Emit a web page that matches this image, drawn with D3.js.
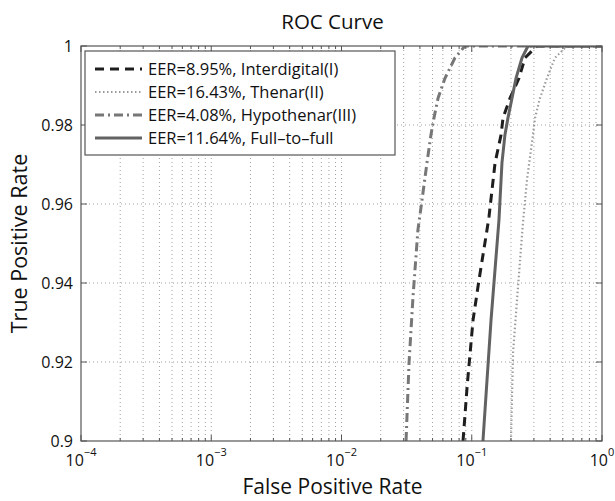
<!DOCTYPE html>
<html>
<head>
<meta charset="utf-8">
<script src="https://d3js.org/d3.v7.min.js"></script>
<style>
  body { margin: 0; background: #fff; }
  text { font-family: "Open Sans", "Noto Sans", sans-serif; fill: #111; }
</style>
</head>
<body>
<div id="chart"></div>
<script>
// values
var xTicks = [1e-4, 1e-3, 1e-2, 1e-1, 1];
var xTickExp = ["\u22124", "\u22123", "\u22122", "\u22121", "0"];
var yTicks = [0.9, 0.92, 0.94, 0.96, 0.98, 1];

var seriesNames = ["EER=8.95%, Interdigital(I)", "EER=16.43%, Thenar(II)",
                   "EER=4.08%, Hypothenar(III)", "EER=11.64%, Full\u2013to\u2013full"];

var interdigitalFpr = [0.0857, 0.0921, 0.1023, 0.1137, 0.1309, 0.1356, 0.1510, 0.1679, 0.1738, 0.1968, 0.2307, 0.2565, 0.317, 1];
var interdigitalTpr = [0.9, 0.9137, 0.9306, 0.9408, 0.9534, 0.9567, 0.9704, 0.9775, 0.9818, 0.9868, 0.9919, 0.9970, 1, 1];

var thenarFpr = [0.2000, 0.2075, 0.2265, 0.2472, 0.2655, 0.2951, 0.3062, 0.3342, 0.3784, 0.4355, 0.538, 1];
var thenarTpr = [0.9, 0.9223, 0.9390, 0.9552, 0.9661, 0.9775, 0.9818, 0.9868, 0.9919, 0.9970, 1, 1];

var hypothenarFpr = [0.0313, 0.0330, 0.0354, 0.0386, 0.0415, 0.0453, 0.0486, 0.0513, 0.0551, 0.0624, 0.0743, 0.0887, 1];
var hypothenarTpr = [0.9, 0.9198, 0.9365, 0.9534, 0.9610, 0.9704, 0.9775, 0.9818, 0.9868, 0.9919, 0.9970, 1, 1];

var fullFpr = [0.1219, 0.1406, 0.1618, 0.1706, 0.1798, 0.1897, 0.2037, 0.2188, 0.2432, 0.2704, 1];
var fullTpr = [0.9, 0.9306, 0.9560, 0.9704, 0.9775, 0.9818, 0.9868, 0.9919, 0.9970, 1, 1];

var W = 615, H = 501;
var pLeft = 81, pRight = 602, pTop = 46, pBottom = 441;

var svg = d3.select("#chart").append("svg")
    .attr("width", W)
    .attr("height", H);

var x = d3.scaleLog().domain([1e-4, 1]).range([pLeft, pRight]);
var y = d3.scaleLinear().domain([0.9, 1]).range([pBottom, pTop]);

// minor x positions 2..9 per decade
var xMinor = [];
xTicks.slice(0, -1).forEach(function (d) {
    for (var k = 2; k <= 9; k++) xMinor.push(d * k);
});

var grid = svg.append("g").attr("class", "grid");
grid.selectAll("line.gx")
    .data(xTicks.slice(1, -1).concat(xMinor))
    .enter().append("line")
    .attr("x1", function (d) { return x(d); })
    .attr("x2", function (d) { return x(d); })
    .attr("y1", pTop).attr("y2", pBottom)
    .style("stroke", "#a0a0a0")
    .style("stroke-width", 1)
    .style("stroke-dasharray", "1,3");
grid.selectAll("line.gy")
    .data(yTicks.slice(1, -1))
    .enter().append("line")
    .attr("x1", pLeft).attr("x2", pRight)
    .attr("y1", function (d) { return y(d); })
    .attr("y2", function (d) { return y(d); })
    .style("stroke", "#a0a0a0")
    .style("stroke-width", 1)
    .style("stroke-dasharray", "1,3");

// curves
var series = [
    { fpr: interdigitalFpr, tpr: interdigitalTpr, color: "#1e1e1e", width: 3, dash: "9,6" },
    { fpr: thenarFpr, tpr: thenarTpr, color: "#9b9b9b", width: 2.2, dash: "1.5,2.5" },
    { fpr: hypothenarFpr, tpr: hypothenarTpr, color: "#777", width: 3, dash: "9,4,2,4" },
    { fpr: fullFpr, tpr: fullTpr, color: "#626262", width: 3, dash: null }
];

svg.append("clipPath").attr("id", "clip")
    .append("rect")
    .attr("x", pLeft).attr("y", pTop)
    .attr("width", pRight - pLeft).attr("height", pBottom - pTop);

var line = d3.line()
    .x(function (d) { return x(d[0]); })
    .y(function (d) { return y(d[1]); });

svg.append("g").attr("clip-path", "url(#clip)")
    .selectAll("path")
    .data(series)
    .enter().append("path")
    .attr("d", function (s) { return line(d3.zip(s.fpr, s.tpr)); })
    .style("fill", "none")
    .style("stroke", function (s) { return s.color; })
    .style("stroke-width", function (s) { return s.width; })
    .style("stroke-dasharray", function (s) { return s.dash; });

// axes box and inward ticks (matlab style)
var axisColor = "#555";
var ax = svg.append("g").attr("class", "axes");
ax.append("rect")
    .attr("x", pLeft).attr("y", pTop)
    .attr("width", pRight - pLeft).attr("height", pBottom - pTop)
    .style("fill", "none")
    .style("stroke", axisColor)
    .style("stroke-width", 1.2);

[pBottom, pTop].forEach(function (yy) {
    var dir = yy === pBottom ? -1 : 1;
    ax.selectAll(null).data(xTicks).enter().append("line")
        .attr("x1", function (d) { return x(d); }).attr("x2", function (d) { return x(d); })
        .attr("y1", yy).attr("y2", yy + dir * 6)
        .style("stroke", axisColor);
    ax.selectAll(null).data(xMinor).enter().append("line")
        .attr("x1", function (d) { return x(d); }).attr("x2", function (d) { return x(d); })
        .attr("y1", yy).attr("y2", yy + dir * 3)
        .style("stroke", axisColor);
});
[pLeft, pRight].forEach(function (xx) {
    var dir = xx === pLeft ? 1 : -1;
    ax.selectAll(null).data(yTicks).enter().append("line")
        .attr("x1", xx).attr("x2", xx + dir * 6)
        .attr("y1", function (d) { return y(d); }).attr("y2", function (d) { return y(d); })
        .style("stroke", axisColor);
});

// tick labels
var xl = ax.selectAll("text.xt")
    .data(xTicks)
    .enter().append("text")
    .attr("x", function (d) { return x(d); })
    .attr("y", 466)
    .attr("text-anchor", "middle")
    .style("font-size", "16px");
xl.append("tspan").text("10");
xl.append("tspan")
    .attr("dy", -10)
    .style("font-size", "11px")
    .text(function (d, i) { return xTickExp[i]; });

ax.selectAll("text.yt")
    .data(yTicks)
    .enter().append("text")
    .attr("x", pLeft - 8)
    .attr("y", function (d) { return y(d); })
    .attr("dy", "0.35em")
    .attr("text-anchor", "end")
    .style("font-size", "16px")
    .text(function (d) { return d === 1 ? "1" : d3.format(".2f")(d).replace(/0$/, ""); });

// titles
svg.append("text")
    .attr("x", (pLeft + pRight) / 2 - 9)
    .attr("y", 29)
    .attr("text-anchor", "middle")
    .style("font-size", "20.5px")
    .text("ROC Curve");
svg.append("text")
    .attr("x", (pLeft + pRight) / 2 - 9)
    .attr("y", 494)
    .attr("text-anchor", "middle")
    .style("font-size", "21px")
    .text("False Positive Rate");
svg.append("text")
    .attr("transform", "translate(27," + (pTop + pBottom) / 2 + ") rotate(-90)")
    .attr("text-anchor", "middle")
    .style("font-size", "21.5px")
    .text("True Positive Rate");

// legend
var lg = svg.append("g").attr("class", "legend");
lg.append("rect")
    .attr("x", 85).attr("y", 51)
    .attr("width", 310).attr("height", 104)
    .style("fill", "#fff")
    .style("stroke", axisColor)
    .style("stroke-width", 1.2);
var rows = lg.selectAll("g.row")
    .data(series)
    .enter().append("g")
    .attr("transform", function (d, i) { return "translate(0," + (69 + i * 23) + ")"; });
rows.append("line")
    .attr("x1", 95).attr("x2", 142)
    .attr("y1", 0).attr("y2", 0)
    .style("stroke", function (s) { return s.color; })
    .style("stroke-width", function (s) { return s.width; })
    .style("stroke-dasharray", function (s) { return s.dash; });
rows.append("text")
    .attr("x", 148)
    .attr("y", 0)
    .attr("dy", "0.35em")
    .style("font-size", "16.5px")
    .text(function (d, i) { return seriesNames[i]; });
</script>
</body>
</html>
